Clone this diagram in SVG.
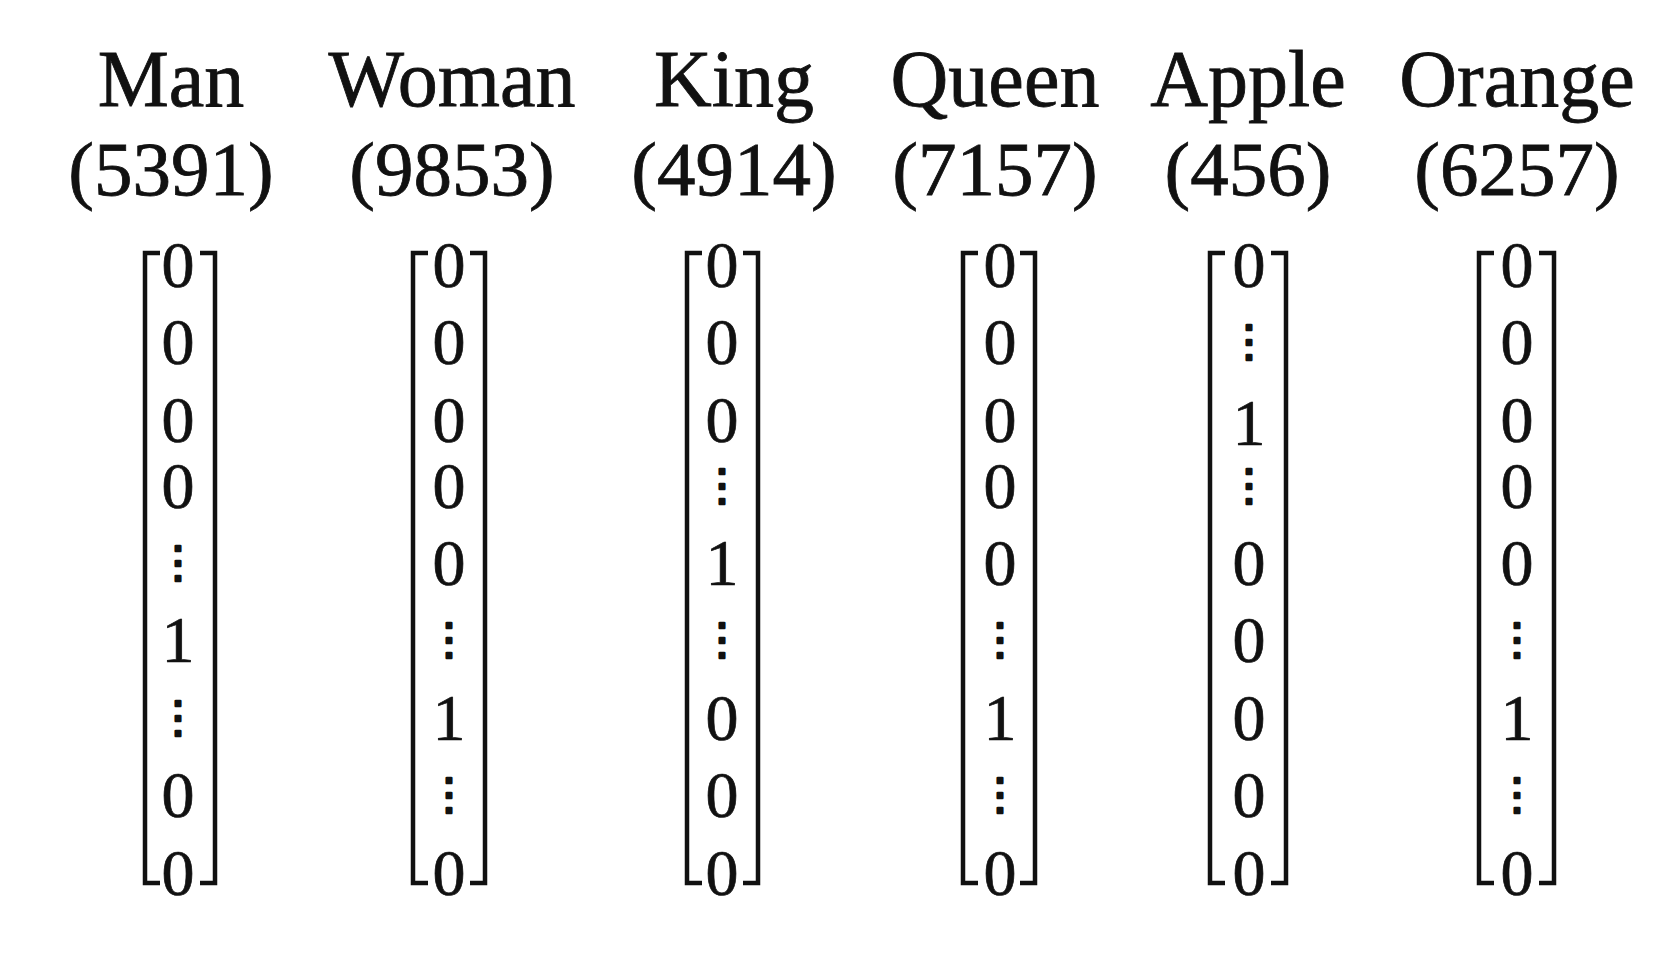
<svg xmlns="http://www.w3.org/2000/svg" width="1666" height="966" viewBox="0 0 1666 966">
<style>
.name{font-family:"Liberation Serif","DejaVu Serif",serif;font-size:80px;fill:#111;stroke:#111;stroke-width:0.8;text-anchor:middle}
.num{font-family:"Liberation Serif","DejaVu Serif",serif;font-size:77px;fill:#111;stroke:#111;stroke-width:0.8;text-anchor:middle}
.c{font-family:"Liberation Serif","DejaVu Serif",serif;font-size:66px;fill:#111;stroke:#111;stroke-width:0.7;text-anchor:middle}
.d{font-family:"DejaVu Serif",serif;font-size:44px;fill:#111;stroke:#111;stroke-width:2.6;stroke-linejoin:round;text-anchor:middle}
.br{fill:none;stroke:#111;stroke-width:4.5}
</style>
<rect width="1666" height="966" fill="#fff"/>
<g id="man">
<text class="name" x="171" y="106">Man</text>
<text class="num" x="171" y="195">(5391)</text>
<path class="br" d="M160,253 H145 V883 H160 M200,253 H215 V883 H200"/>
<text class="c" x="178" y="287">0</text>
<text class="c" x="178" y="364">0</text>
<text class="c" x="178" y="442">0</text>
<text class="c" x="178" y="508">0</text>
<text class="d" x="178" y="577">⋮</text>
<text class="c" x="178" y="662">1</text>
<text class="d" x="178" y="732">⋮</text>
<text class="c" x="178" y="817">0</text>
<text class="c" x="178" y="895">0</text>
</g>
<g id="woman">
<text class="name" x="452" y="106">Woman</text>
<text class="num" x="452" y="195">(9853)</text>
<path class="br" d="M428,253 H413 V883 H428 M470,253 H485 V883 H470"/>
<text class="c" x="449" y="287">0</text>
<text class="c" x="449" y="364">0</text>
<text class="c" x="449" y="442">0</text>
<text class="c" x="449" y="508">0</text>
<text class="c" x="449" y="585">0</text>
<text class="d" x="449" y="654">⋮</text>
<text class="c" x="449" y="740">1</text>
<text class="d" x="449" y="809">⋮</text>
<text class="c" x="449" y="895">0</text>
</g>
<g id="king">
<text class="name" x="734" y="106">King</text>
<text class="num" x="734" y="195">(4914)</text>
<path class="br" d="M702,253 H687 V883 H702 M743,253 H758 V883 H743"/>
<text class="c" x="722" y="287">0</text>
<text class="c" x="722" y="364">0</text>
<text class="c" x="722" y="442">0</text>
<text class="d" x="722" y="500">⋮</text>
<text class="c" x="722" y="585">1</text>
<text class="d" x="722" y="654">⋮</text>
<text class="c" x="722" y="740">0</text>
<text class="c" x="722" y="817">0</text>
<text class="c" x="722" y="895">0</text>
</g>
<g id="queen">
<text class="name" x="995" y="106">Queen</text>
<text class="num" x="995" y="195">(7157)</text>
<path class="br" d="M978,253 H963 V883 H978 M1020,253 H1035 V883 H1020"/>
<text class="c" x="1000" y="287">0</text>
<text class="c" x="1000" y="364">0</text>
<text class="c" x="1000" y="442">0</text>
<text class="c" x="1000" y="508">0</text>
<text class="c" x="1000" y="585">0</text>
<text class="d" x="1000" y="654">⋮</text>
<text class="c" x="1000" y="740">1</text>
<text class="d" x="1000" y="809">⋮</text>
<text class="c" x="1000" y="895">0</text>
</g>
<g id="apple">
<text class="name" x="1248" y="106">Apple</text>
<text class="num" x="1248" y="195">(456)</text>
<path class="br" d="M1225,253 H1210 V883 H1225 M1271,253 H1286 V883 H1271"/>
<text class="c" x="1249" y="287">0</text>
<text class="d" x="1249" y="356">⋮</text>
<text class="c" x="1249" y="445">1</text>
<text class="d" x="1249" y="500">⋮</text>
<text class="c" x="1249" y="585">0</text>
<text class="c" x="1249" y="662">0</text>
<text class="c" x="1249" y="740">0</text>
<text class="c" x="1249" y="817">0</text>
<text class="c" x="1249" y="895">0</text>
</g>
<g id="orange">
<text class="name" x="1517" y="106">Orange</text>
<text class="num" x="1517" y="195">(6257)</text>
<path class="br" d="M1494,253 H1479 V883 H1494 M1539,253 H1554 V883 H1539"/>
<text class="c" x="1517" y="287">0</text>
<text class="c" x="1517" y="364">0</text>
<text class="c" x="1517" y="442">0</text>
<text class="c" x="1517" y="508">0</text>
<text class="c" x="1517" y="585">0</text>
<text class="d" x="1517" y="654">⋮</text>
<text class="c" x="1517" y="740">1</text>
<text class="d" x="1517" y="809">⋮</text>
<text class="c" x="1517" y="895">0</text>
</g>
</svg>
